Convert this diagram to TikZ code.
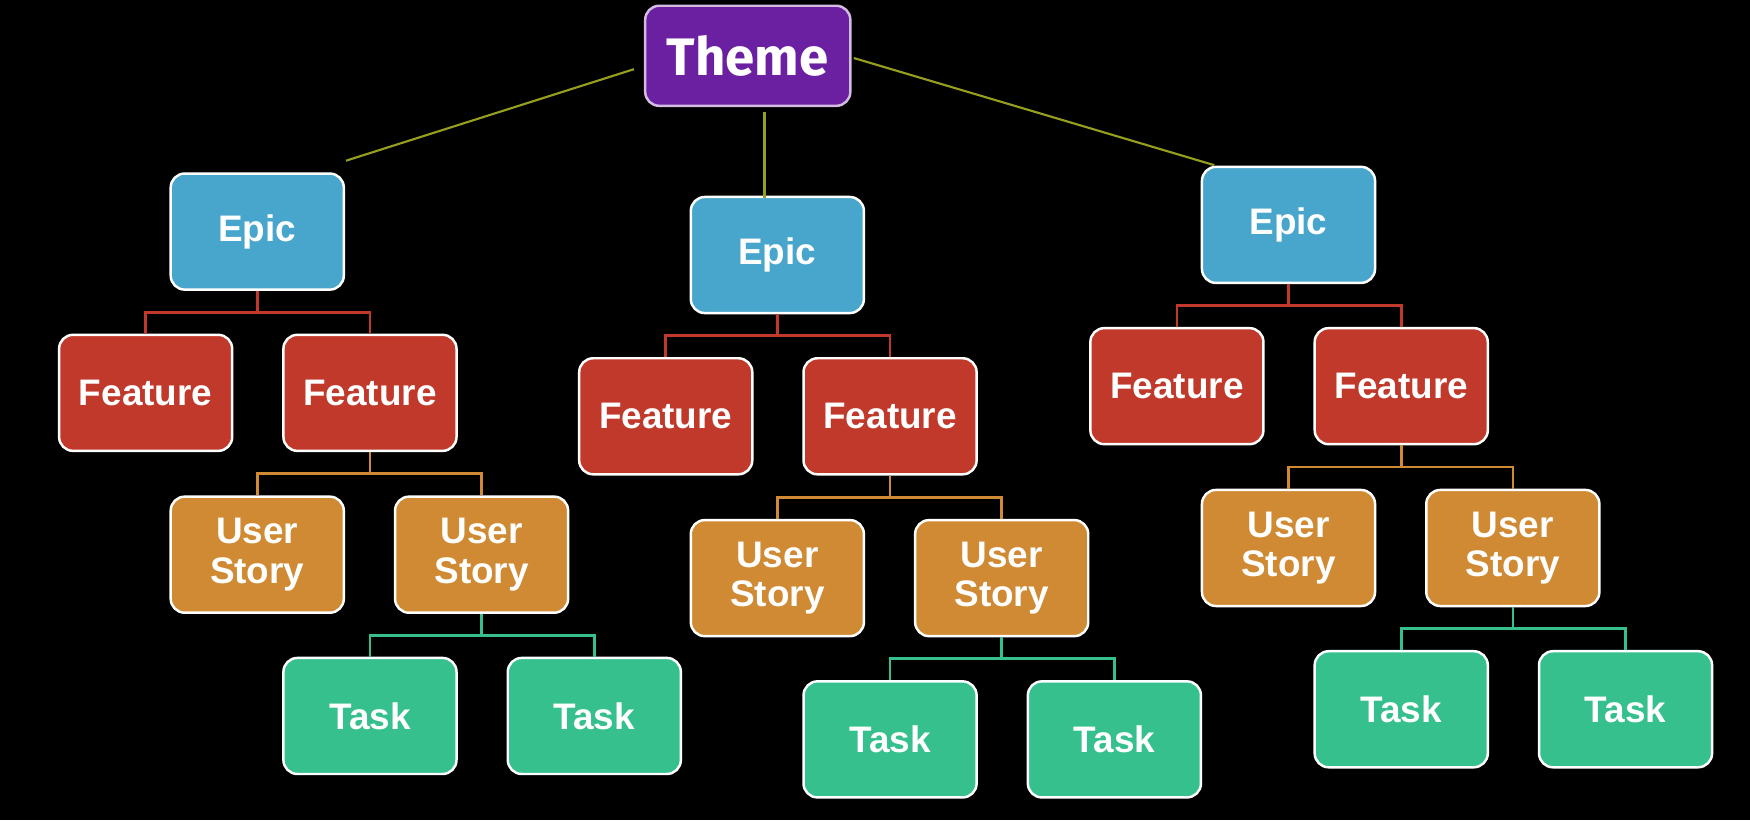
\documentclass[tikz,border=0pt]{standalone}
\usepackage{fontspec}
\setmainfont{Liberation Sans}
\newfontfamily\themefont{Fira Sans}
\usepackage{tikz}
\usetikzlibrary{calc, positioning}
\definecolor{themepurple}{RGB}{106,32,160}
\definecolor{epicblue}{RGB}{72,165,204}
\definecolor{featred}{RGB}{192,57,43}
\definecolor{storyorange}{RGB}{208,138,51}
\definecolor{taskgreen}{RGB}{53,192,141}
\definecolor{olive}{RGB}{150,160,30}
\tikzset{
    x=0.01116cm, y=-0.01116cm, semithick,
    card/.style ={rectangle, rounded corners=1.4mm, draw=white, line width=0.7pt,
                  minimum width=1.73cm, minimum height=1.16cm, text=white,
                  align=center, font=\bfseries\fontsize{10.5}{11.2}\selectfont},
    theme/.style ={card, fill=themepurple, draw=white!70!themepurple,
                  minimum width=2.05cm, minimum height=1.0cm,
                  font=\themefont\bfseries\fontsize{15}{16}\selectfont},
    epic/.style ={card, fill=epicblue},
    feature/.style ={card, fill=featred},
    story/.style ={card, fill=storyorange},
    task/.style ={card, fill=taskgreen},
    branch/.style ={line width=0.75pt, to path={(\tikztostart.south)
        |- ($(\tikztostart.south)!.5!(\tikztotarget.north)$)
        -| (\tikztotarget.north)}},
    themeline/.style ={draw=olive, line width=0.6pt}
    }

\begin{document}
\begin{tikzpicture}
    \fill[black] (0,0) rectangle (1568,735);
    \useasboundingbox (0,0) rectangle (1568,735);

    \node (theme) at (670,50) [theme] {Theme};

    % epics
    \node (e1) at (230.5,207.5) [epic] {Epic};
    \node (e2) at (696.5,228.5) [epic] {Epic};
    \node (e3) at (1154.5,201.5) [epic] {Epic};

    % features
    \node (f1a) at (130.5,352) [feature] {Feature};
    \node (f1b) at (331.5,352) [feature] {Feature};
    \node (f2a) at (596.5,373) [feature] {Feature};
    \node (f2b) at (797.5,373) [feature] {Feature};
    \node (f3a) at (1054.5,346) [feature] {Feature};
    \node (f3b) at (1255.5,346) [feature] {Feature};

    % user stories
    \node (s1a) at (230.5,497) [story] {User\\Story};
    \node (s1b) at (431.5,497) [story] {User\\Story};
    \node (s2a) at (696.5,518) [story] {User\\Story};
    \node (s2b) at (897.5,518) [story] {User\\Story};
    \node (s3a) at (1154.5,491) [story] {User\\Story};
    \node (s3b) at (1355.5,491) [story] {User\\Story};

    % tasks
    \node (t1a) at (331.5,641.5) [task] {Task};
    \node (t1b) at (532.5,641.5) [task] {Task};
    \node (t2a) at (797.5,662.5) [task] {Task};
    \node (t2b) at (998.5,662.5) [task] {Task};
    \node (t3a) at (1255.5,635.5) [task] {Task};
    \node (t3b) at (1456.5,635.5) [task] {Task};

    % theme to epics
    \coordinate (l1) at (568,62);
    \coordinate (l2) at (310,144);
    \coordinate (m1) at (685,100);
    \coordinate (m2) at (685,177);
    \coordinate (r1) at (765,52);
    \coordinate (r2) at (1088,148);
    \draw[themeline] (l1) -- (l2);
    \draw[themeline] (m1) -- (m2);
    \draw[themeline] (r1) -- (r2);

    \path[draw=featred] (e1) edge[branch] (f1a) (e1) edge[branch] (f1b);
    \path[draw=featred] (e2) edge[branch] (f2a) (e2) edge[branch] (f2b);
    \path[draw=featred] (e3) edge[branch] (f3a) (e3) edge[branch] (f3b);

    \path[draw=storyorange] (f1b) edge[branch] (s1a) (f1b) edge[branch] (s1b);
    \path[draw=storyorange] (f2b) edge[branch] (s2a) (f2b) edge[branch] (s2b);
    \path[draw=storyorange] (f3b) edge[branch] (s3a) (f3b) edge[branch] (s3b);

    \path[draw=taskgreen] (s1b) edge[branch] (t1a) (s1b) edge[branch] (t1b);
    \path[draw=taskgreen] (s2b) edge[branch] (t2a) (s2b) edge[branch] (t2b);
    \path[draw=taskgreen] (s3b) edge[branch] (t3a) (s3b) edge[branch] (t3b);
\end{tikzpicture}
\end{document}
